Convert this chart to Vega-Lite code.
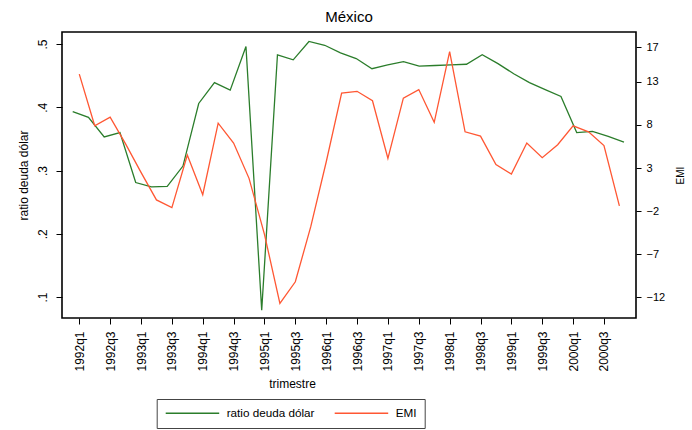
{
  "$schema": "https://vega.github.io/schema/vega-lite/v6.json",
  "width": 574,
  "height": 286,
  "autosize": {"type": "none"},
  "padding": {"left": 62, "top": 32, "right": 56, "bottom": 112},
  "background": "white",
  "title": {"text": "México", "fontSize": 15, "fontWeight": "normal", "font": "Liberation Sans", "color": "black", "anchor": "middle", "offset": 7},
  "config": {
    "font": "Liberation Sans",
    "view": {"stroke": "black", "strokeWidth": 1.6},
    "axis": {"domain": false, "tickColor": "black", "labelColor": "black", "titleColor": "black", "labelFont": "Liberation Sans", "titleFont": "Liberation Sans", "titleFontWeight": "normal", "grid": false, "labelFontSize": 12, "titleFontSize": 12}
  },
  "data": {"values": [
    {"trimestre": "1992q1", "t": 1992.00, "ratio": 0.393, "emi": 13.9},
    {"trimestre": "1992q2", "t": 1992.25, "ratio": 0.384, "emi": 7.9},
    {"trimestre": "1992q3", "t": 1992.50, "ratio": 0.353, "emi": 8.9},
    {"trimestre": "1992q4", "t": 1992.75, "ratio": 0.360, "emi": 5.8},
    {"trimestre": "1993q1", "t": 1993.00, "ratio": 0.281, "emi": 2.5},
    {"trimestre": "1993q2", "t": 1993.25, "ratio": 0.274, "emi": -0.7},
    {"trimestre": "1993q3", "t": 1993.50, "ratio": 0.275, "emi": -1.6},
    {"trimestre": "1993q4", "t": 1993.75, "ratio": 0.307, "emi": 4.5},
    {"trimestre": "1994q1", "t": 1994.00, "ratio": 0.406, "emi": -0.1},
    {"trimestre": "1994q2", "t": 1994.25, "ratio": 0.439, "emi": 8.2},
    {"trimestre": "1994q3", "t": 1994.50, "ratio": 0.427, "emi": 5.9},
    {"trimestre": "1994q4", "t": 1994.75, "ratio": 0.496, "emi": 1.8},
    {"trimestre": "1995q1", "t": 1995.00, "ratio": 0.079, "emi": -4.7},
    {"trimestre": "1995q2", "t": 1995.25, "ratio": 0.483, "emi": -12.7},
    {"trimestre": "1995q3", "t": 1995.50, "ratio": 0.475, "emi": -10.2},
    {"trimestre": "1995q4", "t": 1995.75, "ratio": 0.504, "emi": -3.8},
    {"trimestre": "1996q1", "t": 1996.00, "ratio": 0.498, "emi": 3.7},
    {"trimestre": "1996q2", "t": 1996.25, "ratio": 0.486, "emi": 11.7},
    {"trimestre": "1996q3", "t": 1996.50, "ratio": 0.477, "emi": 11.9},
    {"trimestre": "1996q4", "t": 1996.75, "ratio": 0.461, "emi": 10.8},
    {"trimestre": "1997q1", "t": 1997.00, "ratio": 0.467, "emi": 4.1},
    {"trimestre": "1997q2", "t": 1997.25, "ratio": 0.472, "emi": 11.1},
    {"trimestre": "1997q3", "t": 1997.50, "ratio": 0.465, "emi": 12.1},
    {"trimestre": "1997q4", "t": 1997.75, "ratio": 0.466, "emi": 8.3},
    {"trimestre": "1998q1", "t": 1998.00, "ratio": 0.467, "emi": 16.5},
    {"trimestre": "1998q2", "t": 1998.25, "ratio": 0.468, "emi": 7.2},
    {"trimestre": "1998q3", "t": 1998.50, "ratio": 0.483, "emi": 6.7},
    {"trimestre": "1998q4", "t": 1998.75, "ratio": 0.469, "emi": 3.4},
    {"trimestre": "1999q1", "t": 1999.00, "ratio": 0.453, "emi": 2.3},
    {"trimestre": "1999q2", "t": 1999.25, "ratio": 0.439, "emi": 5.9},
    {"trimestre": "1999q3", "t": 1999.50, "ratio": 0.428, "emi": 4.2},
    {"trimestre": "1999q4", "t": 1999.75, "ratio": 0.417, "emi": 5.7},
    {"trimestre": "2000q1", "t": 2000.00, "ratio": 0.360, "emi": 7.9},
    {"trimestre": "2000q2", "t": 2000.25, "ratio": 0.362, "emi": 7.2},
    {"trimestre": "2000q3", "t": 2000.50, "ratio": 0.354, "emi": 5.6},
    {"trimestre": "2000q4", "t": 2000.75, "ratio": 0.345, "emi": -1.4}
  ]},
  "layer": [
    {
      "mark": {"type": "line", "strokeWidth": 1.3},
      "encoding": {
        "x": {"field": "t", "type": "quantitative", "scale": {"domain": [1991.83, 2000.941], "nice": false, "zero": false}, "axis": null},
        "y": {"field": "ratio", "type": "quantitative", "scale": {"domain": [0.0668, 0.519], "nice": false, "zero": false},
          "axis": {"orient": "left", "title": "ratio deuda dólar", "values": [0.1, 0.2, 0.3, 0.4, 0.5], "labelExpr": "'.' + round(datum.value * 10)", "labelAngle": 270, "labelPadding": 7, "tickSize": 6, "titlePadding": 6}},
        "color": {"datum": "ratio deuda dólar", "type": "nominal",
          "scale": {"domain": ["ratio deuda dólar", "EMI"], "range": ["#2b7d2b", "#ff5733"]},
          "legend": {"title": null, "orient": "none", "legendX": 94.7, "legendY": 367, "direction": "horizontal", "strokeColor": "#444", "fillColor": "white", "padding": 8, "symbolType": "M-1,0H9.7", "symbolSize": 100, "symbolStrokeWidth": 1.5, "labelOffset": 50, "columnPadding": 17, "labelFontSize": 11.7, "labelFont": "Liberation Sans", "labelColor": "black"}}
      }
    },
    {
      "mark": {"type": "line", "strokeWidth": 1.3},
      "encoding": {
        "x": {"field": "t", "type": "quantitative", "scale": {"domain": [1991.72, 2001.019], "nice": false, "zero": false},
          "axis": {"orient": "bottom", "title": "trimestre", "values": [1992, 1992.5, 1993, 1993.5, 1994, 1994.5, 1995, 1995.5, 1996, 1996.5, 1997, 1997.5, 1998, 1998.5, 1999, 1999.5, 2000, 2000.5],
            "labelExpr": "floor(datum.value) + 'q' + (round((datum.value - floor(datum.value)) * 4) + 1)", "labelAngle": 270, "labelPadding": 7, "tickSize": 6, "titleX": 230, "titleY": 65, "titleAlign": "center", "titleBaseline": "middle"}},
        "y": {"field": "emi", "type": "quantitative", "scale": {"domain": [-14.4, 18.78], "nice": false, "zero": false},
          "axis": {"orient": "right", "title": "EMI", "values": [-12, -7, -2, 3, 8, 13, 17], "labelPadding": 5, "tickSize": 5, "labelFontSize": 11, "titleFontSize": 10, "titleAngle": 270, "titleX": 44, "titleY": 143, "titleAlign": "center", "titleBaseline": "middle"}},
        "color": {"datum": "EMI", "type": "nominal"}
      }
    }
  ],
  "resolve": {"scale": {"x": "independent", "y": "independent"}, "axis": {"x": "independent", "y": "independent"}}
}
